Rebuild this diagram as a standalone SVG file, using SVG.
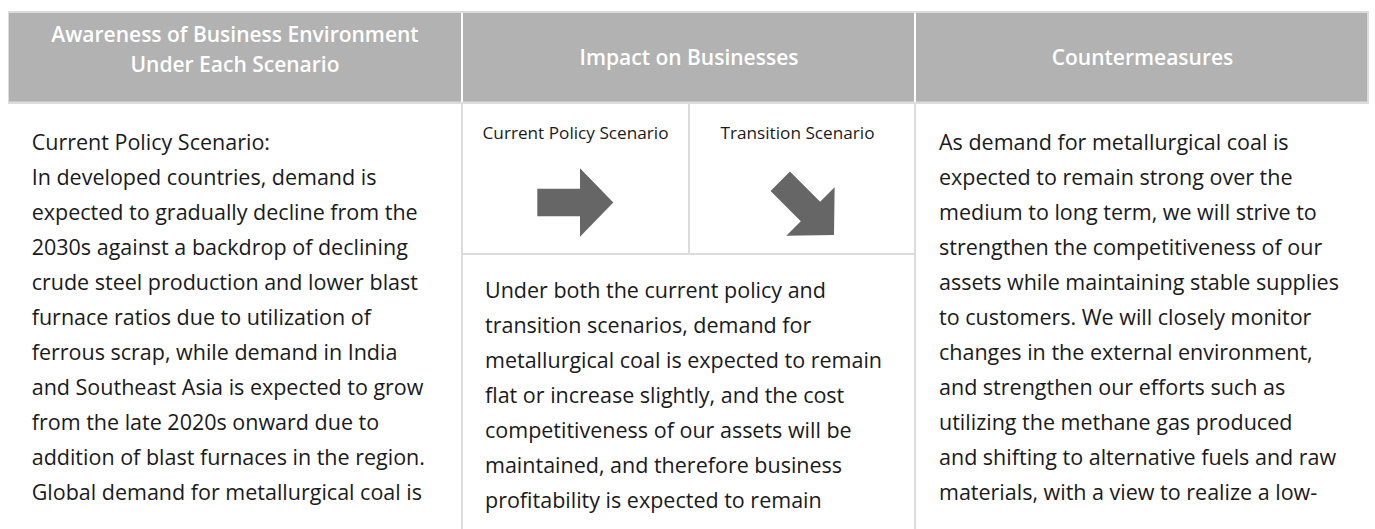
<svg xmlns="http://www.w3.org/2000/svg" width="1375" height="529" viewBox="0 0 1375 529">
<defs>
<style>
.hd{font-family:"Open Sans","Liberation Sans",Arial,sans-serif;font-weight:600;font-size:21px;fill:#ffffff;text-anchor:middle}
.sub{font-family:"Open Sans","Liberation Sans",Arial,sans-serif;font-size:17.2px;fill:#1a1a1a;text-anchor:middle}
.body{font-family:"Open Sans","Liberation Sans",Arial,sans-serif;font-size:21.5px;fill:#1a1a1a}
.rule{stroke:#dcdcdc;stroke-width:2;fill:none}
.arrow{fill:#666666}
</style>
<path id="arr" d="M-76,-13.7 L-33.3,-13.7 L-33.3,-34.2 L0,0 L-33.3,34.2 L-33.3,13.7 L-76,13.7 Z"/>
</defs>
<rect width="1375" height="529" fill="#ffffff"/>
<g id="header">
<rect x="8" y="11" width="1361" height="93" fill="#dcdcdc"/>
<rect x="9" y="13" width="1358" height="88.5" fill="#b2b2b2"/>
<rect x="461" y="13" width="2" height="89" fill="#ffffff"/>
<rect x="914" y="13" width="2" height="89" fill="#ffffff"/>
<text class="hd" x="235" y="42">Awareness of Business Environment</text>
<text class="hd" x="235" y="72">Under Each Scenario</text>
<text class="hd" x="689" y="65">Impact on Businesses</text>
<text class="hd" x="1142.5" y="65">Countermeasures</text>
</g>
<g id="connectors">
<line class="rule" x1="462" y1="102" x2="462" y2="529"/>
<line class="rule" x1="915" y1="102" x2="915" y2="529"/>
<line class="rule" x1="689" y1="104" x2="689" y2="254"/>
<line class="rule" x1="463" y1="254" x2="915" y2="254"/>
</g>
<g id="awareness">
<text class="body" x="31.7" y="150">Current Policy Scenario:</text>
<text class="body" x="31.7" y="185">In developed countries, demand is</text>
<text class="body" x="31.7" y="220">expected to gradually decline from the</text>
<text class="body" x="31.7" y="255">2030s against a backdrop of declining</text>
<text class="body" x="31.7" y="290">crude steel production and lower blast</text>
<text class="body" x="31.7" y="325">furnace ratios due to utilization of</text>
<text class="body" x="31.7" y="360">ferrous scrap, while demand in India</text>
<text class="body" x="31.7" y="395">and Southeast Asia is expected to grow</text>
<text class="body" x="31.7" y="430">from the late 2020s onward due to</text>
<text class="body" x="31.7" y="465">addition of blast furnaces in the region.</text>
<text class="body" x="31.7" y="500">Global demand for metallurgical coal is</text>
</g>
<g id="current-policy">
<text class="sub" x="575.5" y="139">Current Policy Scenario</text>
<use href="#arr" class="arrow" transform="translate(613.3,202.5)"/>
</g>
<g id="transition">
<text class="sub" x="797.5" y="139">Transition Scenario</text>
<use href="#arr" class="arrow" transform="translate(834,235) rotate(45)"/>
</g>
<g id="impact">
<text class="body" x="485" y="298">Under both the current policy and</text>
<text class="body" x="485" y="333">transition scenarios, demand for</text>
<text class="body" x="485" y="368">metallurgical coal is expected to remain</text>
<text class="body" x="485" y="403">flat or increase slightly, and the cost</text>
<text class="body" x="485" y="438">competitiveness of our assets will be</text>
<text class="body" x="485" y="473">maintained, and therefore business</text>
<text class="body" x="485" y="508">profitability is expected to remain</text>
</g>
<g id="countermeasures">
<text class="body" x="939" y="150">As demand for metallurgical coal is</text>
<text class="body" x="939" y="185">expected to remain strong over the</text>
<text class="body" x="939" y="220">medium to long term, we will strive to</text>
<text class="body" x="939" y="255">strengthen the competitiveness of our</text>
<text class="body" x="939" y="290">assets while maintaining stable supplies</text>
<text class="body" x="939" y="325">to customers. We will closely monitor</text>
<text class="body" x="939" y="360">changes in the external environment,</text>
<text class="body" x="939" y="395">and strengthen our efforts such as</text>
<text class="body" x="939" y="430">utilizing the methane gas produced</text>
<text class="body" x="939" y="465">and shifting to alternative fuels and raw</text>
<text class="body" x="939" y="500">materials, with a view to realize a low-</text>
</g>
</svg>
